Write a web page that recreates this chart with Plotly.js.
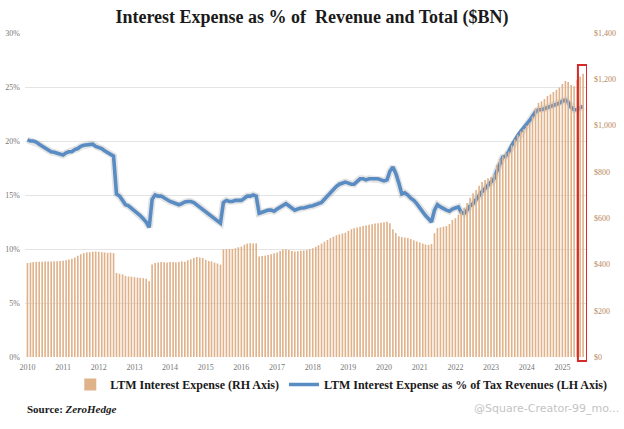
<!DOCTYPE html>
<html>
<head>
<meta charset="utf-8">
<script src="https://cdn.plot.ly/plotly-3.0.1.min.js"></script>
<style>
html,body{margin:0;padding:0;background:#fff;}
#chart{width:624px;height:429px;}
</style>
</head>
<body>
<div id="chart"></div>
<script>
// ---- DATA (monthly, Jan 2010 .. Aug 2025) ----
var startYear = 2010;
var monthCount = 188;

// LTM Interest Expense ($BN), right axis
var interestExpense = [
  // 2010
  406, 408, 410, 411, 412, 412, 413, 413, 413, 414, 414, 415,
  // 2011
  416, 418, 421, 425, 430, 437, 444, 449, 452, 453, 455, 456,
  // 2012
  455, 453, 452, 450, 451, 449, 363, 360, 357, 350, 348, 347,
  // 2013
  345, 343, 342, 341, 338, 328, 400, 406, 408, 410, 409, 408,
  // 2014
  410, 411, 408, 410, 413, 412, 418, 422, 428, 432, 430, 428,
  // 2015
  420, 415, 413, 408, 404, 399, 465, 466, 467, 467, 470, 474,
  // 2016
  477, 485, 490, 492, 490, 491, 434, 436, 438, 441, 444, 448,
  // 2017
  452, 458, 464, 466, 462, 458, 456, 457, 459, 460, 462, 466,
  // 2018
  470, 476, 483, 490, 498, 506, 514, 520, 526, 530, 534, 537,
  // 2019
  545, 552, 556, 560, 563, 566, 568, 571, 574, 577, 578, 580,
  // 2020
  582, 584, 578, 552, 536, 522, 518, 516, 514, 510, 504, 499,
  // 2021
  495, 490, 486, 485, 488, 535, 557, 560, 563, 566, 575, 592,
  // 2022
  600, 614, 630, 645, 665, 688, 708, 722, 740, 756, 765, 772,
  // 2023
  778, 792, 830, 855, 868, 880, 888, 915, 940, 960, 975, 985,
  // 2024
  1000, 1012, 1040, 1075, 1098, 1105, 1115, 1128, 1135, 1145, 1155, 1165,
  // 2025
  1180, 1193, 1188, 1175, 1170, 1198, 1212, 1224
];

// LTM Interest Expense as % of Tax Revenues, left axis
var interestPctRevenue = [
  // 2010
  20.1, 20.0, 20.0, 19.9, 19.7, 19.5, 19.3, 19.2, 19.0, 18.95, 18.85, 18.75,
  // 2011
  18.7, 18.9, 19.0, 19.0, 19.2, 19.3, 19.5, 19.6, 19.65, 19.7, 19.7, 19.5,
  // 2012
  19.4, 19.3, 19.1, 18.95, 18.8, 18.6, 15.1, 14.9, 14.5, 14.1, 14.0, 13.8,
  // 2013
  13.5, 13.3, 13.1, 12.8, 12.5, 12.0, 14.6, 15.0, 14.9, 14.9, 14.7, 14.5,
  // 2014
  14.4, 14.3, 14.2, 14.1, 14.2, 14.35, 14.4, 14.4, 14.3, 14.1, 13.9, 13.6,
  // 2015
  13.4, 13.2, 13.0, 12.8, 12.6, 12.4, 14.3, 14.5, 14.4, 14.4, 14.5, 14.5,
  // 2016
  14.5, 14.7, 14.9, 14.9, 15.0, 14.9, 13.3, 13.4, 13.5, 13.6, 13.6, 13.5,
  // 2017
  13.7, 13.9, 14.1, 14.2, 14.0, 13.8, 13.6, 13.7, 13.8, 13.8, 13.9, 13.95,
  // 2018
  14.0, 14.1, 14.2, 14.3, 14.6, 14.9, 15.3, 15.6, 15.8, 16.0, 16.1, 16.2,
  // 2019
  16.1, 16.0, 16.0, 16.3, 16.5, 16.5, 16.4, 16.5, 16.5, 16.5, 16.5, 16.4,
  // 2020
  16.3, 16.4, 17.2, 17.6, 17.0, 16.1, 15.1, 15.2, 15.0, 14.7, 14.5, 14.2,
  // 2021
  13.8, 13.4, 13.1, 12.8, 12.5, 13.6, 14.1, 13.9, 13.7, 13.6, 13.5, 13.7,
  // 2022
  13.8, 13.9, 13.4, 13.3, 13.6, 14.0, 14.2, 14.6, 14.9, 15.3, 15.6, 15.9,
  // 2023
  16.1, 16.5, 17.2, 17.9, 18.5, 18.6, 19.0, 19.6, 20.1, 20.5, 20.9, 21.2,
  // 2024
  21.6, 21.9, 22.3, 22.7, 22.9, 22.9, 23.0, 23.1, 23.2, 23.3, 23.4, 23.5,
  // 2025
  23.7, 23.8, 23.6, 23.1, 22.9, 22.9, 23.1, 23.2
];

var leftTickVals = [0, 5, 10, 15, 20, 25, 30];
var leftTickText = ["0%", "5%", "10%", "15%", "20%", "25%", "30%"];
var rightTickVals = [0, 200, 400, 600, 800, 1000, 1200, 1400];
var rightTickText = ["$0", "$200", "$400", "$600", "$800", "$1,000", "$1,200", "$1,400"];
var yearLabels = ["2010","2011","2012","2013","2014","2015","2016","2017","2018","2019","2020","2021","2022","2023","2024","2025"];

var barName = "LTM Interest Expense (RH Axis)";
var lineName = "LTM Interest Expense as % of Tax Revenues (LH Axis)";
var titleText = "Interest Expense as % of  Revenue and Total ($BN)";

// ---- build month dates ----
function pad(n){ return (n < 10 ? "0" : "") + n; }
var months = [];
for (var i = 0; i < monthCount; i++) {
  var y = startYear + Math.floor(i / 12);
  var m = (i % 12) + 1;
  months.push(y + "-" + pad(m) + "-01");
}
var yearTicks = yearLabels.map(function(y){ return y + "-01-01"; });

function shiftDays(d, days){
  var t = new Date(d + "T00:00:00Z").getTime() + days * 86400000;
  return new Date(t).toISOString().slice(0, 10);
}
var xStart = shiftDays(months[0], -25);
var xEnd = shiftDays(months[monthCount - 1], 40);

// highlight box around last months (derived from data)
var hlStart = shiftDays(months[monthCount - 3], 8);

var serif = "Liberation Serif, Times New Roman, serif";

var traces = [
  {
    type: "bar",
    x: months,
    y: interestExpense,
    yaxis: "y2",
    name: barName,
    marker: {color: "#e0b28a", line: {width: 0}},
    hoverinfo: "x+y"
  },
  {
    type: "scatter",
    mode: "lines",
    x: months,
    y: interestPctRevenue,
    yaxis: "y",
    showlegend: false,
    line: {color: "rgba(90,90,90,0.16)", width: 7},
    hoverinfo: "skip"
  },
  {
    type: "scatter",
    mode: "lines",
    x: months,
    y: interestPctRevenue,
    yaxis: "y",
    name: lineName,
    line: {color: "#5a8cc4", width: 3.6}
  }
];

var layout = {
  width: 624,
  height: 429,
  margin: {l: 25, r: 31, t: 33, b: 72},
  paper_bgcolor: "#ffffff",
  plot_bgcolor: "#ffffff",
  bargap: 0.4,
  title: {
    text: "<b>" + titleText + "</b>",
    font: {family: serif, size: 18, color: "#1a1a1a"},
    x: 0.5, xanchor: "center",
    y: 0.962, yanchor: "middle"
  },
  xaxis: {
    type: "date",
    range: [xStart, xEnd],
    tickvals: yearTicks,
    ticktext: yearLabels,
    showgrid: false,
    zeroline: false,
    showline: false,
    ticks: "",
    ticklabelstandoff: 4,
    tickfont: {family: serif, size: 8, color: "#777"}
  },
  yaxis: {
    range: [0, 30],
    tickvals: leftTickVals,
    ticktext: leftTickText,
    showgrid: true,
    gridcolor: "#e4e4e4",
    gridwidth: 1,
    zeroline: false,
    showline: false,
    ticks: "",
    ticklabelstandoff: 4,
    tickfont: {family: serif, size: 8, color: "#777"},
    automargin: false
  },
  yaxis2: {
    range: [0, 1400],
    overlaying: "y",
    side: "right",
    tickvals: rightTickVals,
    ticktext: rightTickText,
    showgrid: false,
    zeroline: false,
    showline: false,
    ticks: "",
    ticklabelstandoff: 6,
    tickfont: {family: serif, size: 8, color: "#b9865a"},
    automargin: false
  },
  legend: {
    orientation: "h",
    x: 1.045, xanchor: "right",
    y: -0.085, yanchor: "middle",
    font: {family: serif, size: 12, color: "#1a1a1a", weight: "bold"},
    traceorder: "normal",
    itemwidth: 30,
    bgcolor: "rgba(0,0,0,0)"
  },
  shapes: [
    {
      type: "rect",
      xref: "x", yref: "paper",
      x0: hlStart, x1: xEnd,
      y0: -0.012, y1: 0.901,
      line: {color: "#d42a2a", width: 2},
      fillcolor: "rgba(0,0,0,0)",
      layer: "above"
    }
  ],
  annotations: [
    {
      xref: "paper", yref: "paper",
      x: 0.0, y: -0.16, xanchor: "left", yanchor: "middle",
      showarrow: false,
      text: "<b>Source: <i>ZeroHedge</i></b>",
      font: {family: serif, size: 11, color: "#1a1a1a"}
    },
    {
      xref: "paper", yref: "paper",
      x: 1.06, y: -0.16, xanchor: "right", yanchor: "middle",
      showarrow: false,
      text: "@Square-Creator-99_mo...",
      font: {family: "DejaVu Sans, sans-serif", size: 11, color: "#c4c4c4"}
    }
  ]
};

Plotly.newPlot("chart", traces, layout, {displayModeBar: false, staticPlot: true});
</script>
</body>
</html>
